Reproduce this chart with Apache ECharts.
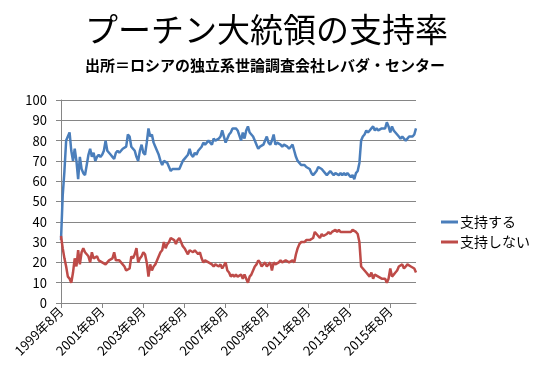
<!DOCTYPE html>
<html><head><meta charset="utf-8">
<script src="https://cdn.jsdelivr.net/npm/echarts@6/dist/echarts.min.js"></script>
<style>html,body{margin:0;padding:0;background:#fff}#c{width:535px;height:382px}</style>
</head><body><div id="c"></div>
<script>
const titleText = 'プーチン大統領の支持率';
const subtitleText = '出所＝ロシアの独立系世論調査会社レバダ・センター';
const seriesNames = ['支持する', '支持しない'];
const startYear = 1999, startMonth = 8, monthCount = 208;
const yMin = 0, yMax = 100, yInterval = 10;

const support = [
31,53,65,80,80,84,75,70,76,70,
61,72,66,64,63,68,73,76,72,74,
70,72,73,72,73,75,80,75,74,73,
72,71,74,75,74,75,76,76,77,83,
82,77,76,75,72,70,75,78,74,73,
79,86,82,83,79,77,75,73,70,68,
70,70,69,67,65,66,66,66,66,66,
68,70,71,71,73,76,73,72,74,73,
75,76,77,79,78,78,80,80,78,81,
80,80,81,82,85,82,79,81,83,84,
86,86,86,85,85,80,84,81,85,87,
84,84,82,80,78,76,77,77,78,78,
82,79,78,80,83,78,79,79,78,77,
78,78,77,76,77,78,75,72,70,69,
68,68,68,67,67,66,64,63,64,65,
67,67,66,66,64,63,64,65,64,63,
64,64,63,64,63,64,63,64,64,62,
63,61,64,65,69,80,82,83,85,84,
85,86,87,85,86,85,85,86,86,86,
89,87,84,87,85,84,83,82,81,82,
81,80,81,82,82,82,83,86
];
const oppose = [
33,27,22,18,13,12,10,15,22,18,
26,19,25,27,25,24,23,20,25,22,
22,23,21,21,20,20,19,20,21,21,
22,25,21,21,21,20,20,18,16,16,
17,23,22,24,27,20,22,23,25,24,
20,13,19,16,18,19,19,23,25,26,
30,27,29,30,32,32,31,29,31,32,
30,28,27,27,24,26,26,25,26,25,
24,25,22,20,21,21,20,20,19,18,
19,19,18,19,17,17,20,16,15,13,
14,13,14,13,13,14,12,14,12,10,
13,14,16,18,19,21,20,18,19,20,
18,19,20,16,20,19,19,20,21,20,
20,21,21,20,20,21,20,24,27,29,
30,30,30,31,31,31,31,32,35,34,
33,32,34,33,33,34,35,34,35,35,
36,35,36,35,35,35,35,35,35,35,
36,36,35,34,30,18,17,16,15,14,
13,15,12,14,14,13,13,12,12,12,
10,12,17,13,14,15,16,18,18,19,
17,18,19,19,18,18,17,15
];

const categories = [];
for (let i = 0; i < monthCount; i++) {
  const m = startMonth - 1 + i;
  categories.push((startYear + Math.floor(m / 12)) + '年' + (m % 12 + 1) + '月');
}

const FONT = '"Noto Sans CJK JP", "Noto Sans", sans-serif';
const gridColor = '#868686';
const chart = echarts.init(document.getElementById('c'), null, {renderer: 'canvas'});
chart.setOption({
  animation: false,
  backgroundColor: '#fff',
  title: [
    {text: titleText, left: 80, top: 8, textStyle: {fontFamily: FONT, fontSize: 33, fontWeight: 'normal', color: '#000'}},
    {text: subtitleText, left: 80, top: 53, textStyle: {fontFamily: FONT, fontSize: 15, fontWeight: 'bold', color: '#000'}}
  ],
  legend: {
    orient: 'vertical', left: 441, top: 215, padding: 0, itemGap: 6,
    icon: 'rect', itemWidth: 17, itemHeight: 3,
    textStyle: {fontFamily: FONT, fontSize: 14, color: '#000', padding: [0, 0, 0, -3]},
    data: seriesNames
  },
  grid: {left: 61, right: 119, top: 100, bottom: 79},
  xAxis: {
    type: 'category', boundaryGap: false, data: categories,
    axisLine: {lineStyle: {color: gridColor, width: 1}},
    axisTick: {show: true, interval: 23, length: 5, lineStyle: {color: gridColor}},
    axisLabel: {interval: 23, rotate: 45, margin: 6, fontFamily: FONT, fontSize: 13, color: '#000'},
    splitLine: {show: false}
  },
  yAxis: {
    type: 'value', min: yMin, max: yMax, interval: yInterval,
    axisLine: {show: true, lineStyle: {color: gridColor, width: 1}},
    axisTick: {show: true, length: 5, lineStyle: {color: gridColor}},
    axisLabel: {margin: 14, fontFamily: FONT, fontSize: 13, color: '#000'},
    splitLine: {lineStyle: {color: gridColor, width: 1}}
  },
  series: [
    {name: seriesNames[0], type: 'line', data: support, showSymbol: false, symbol: 'none',
     lineStyle: {color: '#4a7ebb', width: 2.5}, itemStyle: {color: '#4a7ebb'}},
    {name: seriesNames[1], type: 'line', data: oppose, showSymbol: false, symbol: 'none',
     lineStyle: {color: '#be4b48', width: 2.5}, itemStyle: {color: '#be4b48'}}
  ]
});
</script></body></html>
